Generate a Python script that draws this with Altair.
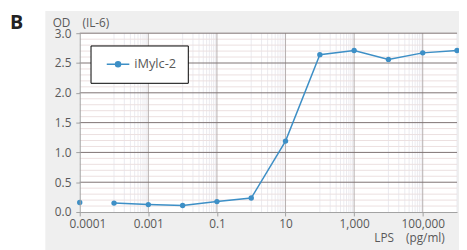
import altair as alt
import pandas as pd

# ---- data ----
series_name = ["iMylc-2"]
lps = [1e-5, 1e-4, 1e-3, 1e-2, 1e-1, 1, 10, 100, 1e3, 1e4, 1e5, 1e6]
od = [0.16, 0.15, 0.125, 0.11, 0.175, 0.235, 1.19, 2.64, 2.71, 2.56, 2.67, 2.71]
x_tick_values = [1e-5, 1e-3, 1e-1, 10, 1e3, 1e5]
x_tick_labels = ["0.0001", "0.001", "0.1", "10", "1,000", "100,000"]
y_tick_values = [0.0, 0.5, 1.0, 1.5, 2.0, 2.5, 3.0]

W, H = 384, 182
FONT = "Open Sans"
TXT = "#595959"
BLUE = "#3d8fc6"
XDOM = [1e-5, 1e6]
YDOM = [0, 3]

df = pd.DataFrame({"lps": lps, "od": od, "series": series_name * len(lps)})
line_df = df.iloc[1:]

xs = alt.Scale(type="log", domain=XDOM, nice=False)
ys = alt.Scale(domain=YDOM, nice=False, zero=True)

# gridline positions (log base-100 style minor lines, as in the reference)
minor_x = [b * 10 * k for b in x_tick_values for k in range(1, 10) if b * 10 * k <= 1e6 * 1.0001]
minor_y = [i / 10 for i in range(1, 30) if i % 5 != 0]
major_x = x_tick_values[1:]
major_y = y_tick_values[1:]

one = pd.DataFrame({"a": [0]})

label_expr = "{}[indexof({}, datum.value)]".format(
    "[" + ",".join("'" + s + "'" for s in x_tick_labels) + "]",
    "[" + ",".join(repr(v) for v in x_tick_values) + "]",
)

x_axis = alt.Axis(
    values=x_tick_values, labelExpr=label_expr, grid=False, zindex=1,
    title="LPS\u3000(pg/ml)", titleX=371, titleY=29.5, titleAlign="right", titleBaseline="alphabetic",
    titleFont=FONT, titleFontSize=12, titleFontWeight="normal", titleColor=TXT,
    labelFont=FONT, labelFontSize=12, labelColor=TXT, labelPadding=3,
    labelFlush=True, labelFlushOffset=11,
    tickSize=4, tickColor="#a0a0a0", domainColor="#a0a0a0",
)
y_axis = alt.Axis(
    values=y_tick_values, format=".1f", grid=False, zindex=1,
    title="OD\u3000(IL-6)", titleX=-28, titleY=-7, titleAngle=0, titleAlign="left",
    titleBaseline="alphabetic", titleFont=FONT, titleFontSize=12, titleFontWeight="normal",
    titleColor=TXT, labelFont=FONT, labelFontSize=12, labelColor=TXT, labelPadding=5,
    tickSize=4, tickColor="#a0a0a0", domainColor="#a0a0a0",
)

gray = alt.Chart(one).mark_rect(color="#efefef").encode(
    x=alt.value(-35), x2=alt.value(W + 20), y=alt.value(-22.5), y2=alt.value(H + 45)
)
white = alt.Chart(one).mark_rect(color="white").encode(
    x=alt.value(0), x2=alt.value(W), y=alt.value(0), y2=alt.value(H)
)


def vrules(vals, color, width=1):
    return alt.Chart(pd.DataFrame({"v": vals})).mark_rule(color=color, strokeWidth=width).encode(
        x=alt.X("v:Q", scale=xs, axis=x_axis)
    )


def hrules(vals, color, width=1):
    return alt.Chart(pd.DataFrame({"v": vals})).mark_rule(color=color, strokeWidth=width).encode(
        y=alt.Y("v:Q", scale=ys, axis=y_axis)
    )


color = alt.Color(
    "series:N", scale=alt.Scale(range=[BLUE]),
    legend=alt.Legend(
        title=None, orient="none", legendX=11, legendY=12.5,
        fillColor="white", strokeColor="black", padding=11.5,
        symbolType="M-1.8,0H1.8M-0.4,0A0.4,0.4 0 1,0 0.4,0A0.4,0.4 0 1,0 -0.4,0",
        symbolSize=163, symbolStrokeWidth=1.5, symbolFillColor=BLUE, symbolStrokeColor=BLUE,
        symbolOffset=9, labelOffset=9, labelFont=FONT, labelFontSize=13, labelColor=TXT,
    ),
)

line = alt.Chart(line_df).mark_line(strokeWidth=1.5).encode(
    x=alt.X("lps:Q", scale=xs, axis=x_axis),
    y=alt.Y("od:Q", scale=ys, axis=y_axis),
    color=color,
)
pts = alt.Chart(df).mark_circle(size=30, opacity=1).encode(
    x=alt.X("lps:Q", scale=xs, axis=x_axis),
    y=alt.Y("od:Q", scale=ys, axis=y_axis),
    color=alt.Color("series:N", legend=None),
)

letter = alt.Chart(one).mark_text(
    text="B", font=FONT, fontSize=20, fontWeight="bold", color="#222222", align="left", baseline="alphabetic"
).encode(x=alt.value(-71), y=alt.value(-4.5))

chart = alt.layer(
    gray, white,
    vrules(minor_x, "#ebebf0"), hrules(minor_y, "#ecdfdf"),
    vrules(major_x, "#b5aeae"), hrules(major_y, "#7d7272"),
    line, pts, letter,
).properties(
    width=W, height=H,
    autosize=alt.AutoSizeParams(type="none"),
    padding={"left": 73, "top": 23.5, "right": 2, "bottom": 36.5},
).configure_view(stroke=None).configure(background="white")

chart.save("out.html", embed_options={"renderer": "svg", "actions": False})
